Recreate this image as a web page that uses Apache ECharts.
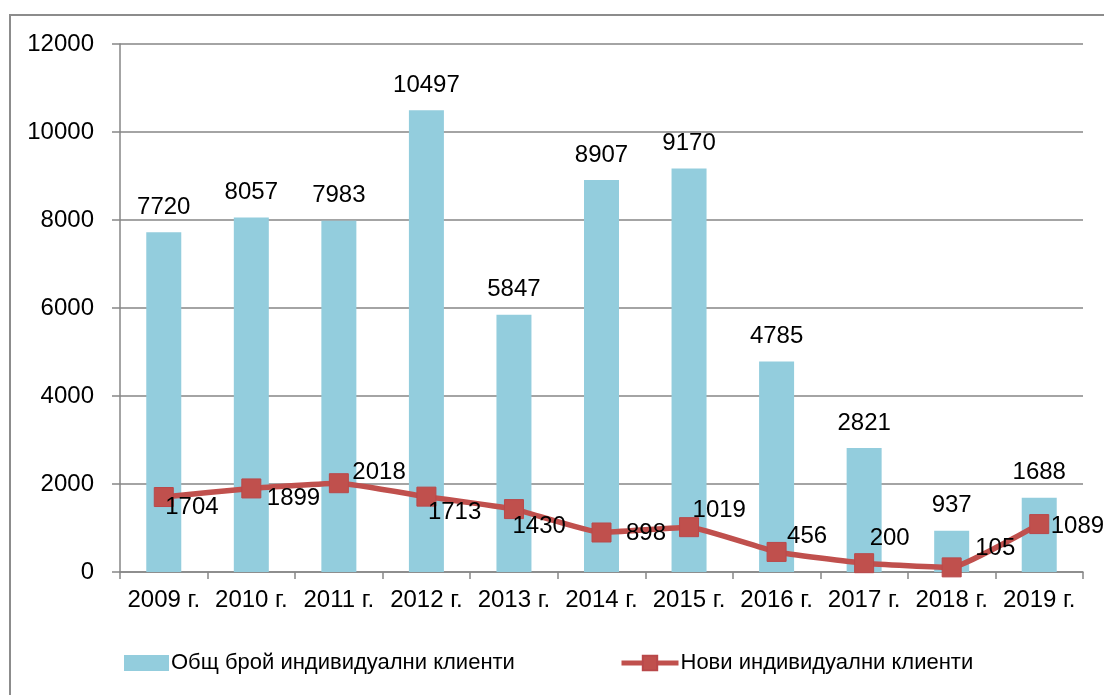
<!DOCTYPE html>
<html>
<head>
<meta charset="utf-8">
<script src="https://cdn.jsdelivr.net/npm/echarts@6/dist/echarts.min.js"></script>
<style>
html,body{margin:0;padding:0;background:#fff;}
#chart{width:1104px;height:695px;}
</style>
</head>
<body>
<div id="chart"></div>
<script>
const categories = ['2009 г.','2010 г.','2011 г.','2012 г.','2013 г.','2014 г.','2015 г.','2016 г.','2017 г.','2018 г.','2019 г.'];
const totalClients = [7720, 8057, 7983, 10497, 5847, 8907, 9170, 4785, 2821, 937, 1688];
const newClients = [1704, 1899, 2018, 1713, 1430, 898, 1019, 456, 200, 105, 1089];
const yTicks = [0, 2000, 4000, 6000, 8000, 10000, 12000];
const seriesNames = ['Общ брой индивидуални клиенти', 'Нови индивидуални клиенти'];

// label offsets (style only): [dx from marker centre to text left, dy of text centre]
const lineLabelOffsets = [[3,11],[17,10],[15,-10],[3,16],[0,18],[26,1],[5,-16],[12,-15],[7,-24],[25,-19],[13,3]];

const FONT = 'Liberation Sans';
const FS = 24;
const SYM = 19;
const chart = echarts.init(document.getElementById('chart'));

const lineData = newClients.map((v, i) => ({
  value: v,
  label: {
    position: [lineLabelOffsets[i][0] + SYM/2 - 1, lineLabelOffsets[i][1] + SYM/2],
    align: 'left',
    verticalAlign: 'middle'
  }
}));

const legendText = { fontFamily: FONT, fontSize: 22, color: '#000', padding: [0,0,0,-3] };

chart.setOption({
  animation: false,
  backgroundColor: '#fff',
  textStyle: { fontFamily: FONT },
  graphic: [{
    type: 'rect',
    shape: { x: 10, y: 15, width: 1110, height: 700 },
    style: { fill: 'none', stroke: '#8c8c8c', lineWidth: 2 },
    silent: true
  }],
  grid: { left: 120, right: 21, top: 44, bottom: 123, containLabel: false },
  legend: [
    {
      top: 647, left: 119,
      itemWidth: 45, itemHeight: 16,
      textStyle: legendText,
      data: [{ name: seriesNames[0], icon: 'rect' }]
    },
    {
      top: 647, left: 614,
      itemWidth: 57, itemHeight: 18,
      textStyle: legendText,
      lineStyle: { width: 5 },
      data: [{ name: seriesNames[1] }]
    }
  ],
  xAxis: {
    type: 'category',
    data: categories,
    axisLine: { lineStyle: { color: '#868686', width: 1.5 } },
    axisTick: { show: true, length: 7, alignWithLabel: false, lineStyle: { color: '#868686', width: 1.5 } },
    axisLabel: { color: '#000', fontSize: FS, fontFamily: FONT, margin: 16, interval: 0 }
  },
  yAxis: {
    type: 'value',
    min: yTicks[0],
    max: yTicks[yTicks.length - 1],
    interval: 2000,
    axisLine: { show: true, lineStyle: { color: '#868686', width: 1.5 } },
    axisTick: { show: true, length: 8, lineStyle: { color: '#868686', width: 1.5 } },
    splitLine: { lineStyle: { color: '#868686', width: 1.5 } },
    axisLabel: { color: '#000', fontSize: FS, fontFamily: FONT, margin: 26, formatter: v => String(v) }
  },
  series: [
    {
      name: seriesNames[0],
      type: 'bar',
      data: totalClients,
      barWidth: 35,
      itemStyle: { color: '#93CDDD' },
      label: { show: true, position: 'top', distance: 13, color: '#000', fontSize: FS, fontFamily: FONT }
    },
    {
      name: seriesNames[1],
      type: 'line',
      data: lineData,
      smooth: 0.12,
      symbol: 'rect',
      symbolSize: SYM,
      lineStyle: { color: '#C0504D', width: 5.5 },
      itemStyle: { color: '#C0504D', borderColor: '#B9484A', borderWidth: 1 },
      label: { show: true, color: '#000', fontSize: FS, fontFamily: FONT },
      z: 5
    }
  ]
});
</script>
</body>
</html>
